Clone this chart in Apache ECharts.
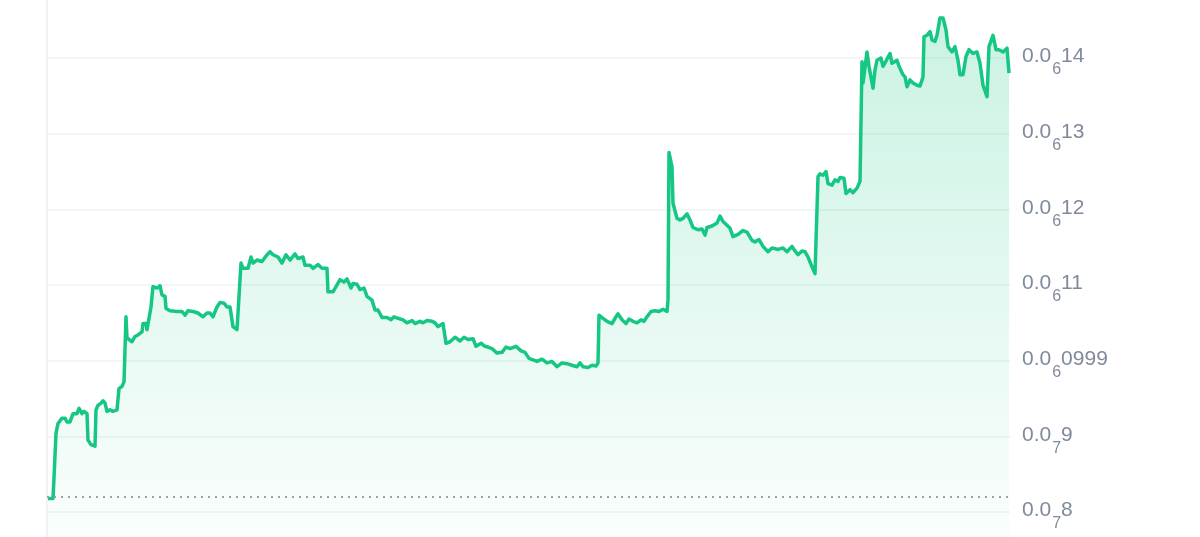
<!DOCTYPE html>
<html>
<head>
<meta charset="utf-8">
<script src="https://cdn.jsdelivr.net/npm/echarts@6/dist/echarts.min.js"></script>
<style>
  html, body { margin: 0; padding: 0; background: #fff; }
  #chart { width: 1200px; height: 537px; }
</style>
</head>
<body>
<div id="chart"></div>
<script>
// price values are in units of 1e-7 (0.0₆14 = 1.4e-7)
const timeSteps = [
  1, 6, 7, 8, 9, 11, 15, 18, 20, 23, 26, 30, 32, 35, 37, 40, 41, 44, 48, 49,
  51, 54, 56, 58, 60, 63, 66, 70, 72, 75, 77, 79, 80, 82, 85, 88, 91, 95, 96, 99,
  100, 102, 104, 106, 110, 113, 115, 118, 119, 123, 130, 135, 138, 141, 146, 151, 156, 160, 163, 166,
  170, 173, 177, 180, 183, 185, 186, 190, 192, 194, 196, 201, 204, 206, 210, 215, 220, 223, 226, 231,
  235, 239, 243, 248, 251, 256, 258, 263, 266, 271, 275, 280, 281, 286, 289, 293, 297, 300, 304, 306,
  310, 313, 317, 320, 325, 328, 331, 335, 340, 344, 347, 351, 356, 360, 365, 368, 373, 376, 380, 385,
  388, 391, 396, 399, 403, 408, 413, 417, 421, 426, 429, 434, 438, 441, 445, 450, 455, 459, 463, 469,
  474, 478, 482, 483, 490, 495, 500, 505, 510, 515, 520, 525, 530, 533, 536, 541, 545, 549, 551, 552,
  556, 560, 565, 568, 571, 575, 579, 582, 586, 590, 594, 597, 600, 604, 608, 612, 616, 620, 621, 622,
  625, 626, 628, 630, 633, 636, 640, 643, 646, 651, 655, 658, 660, 665, 670, 673, 676, 680, 683, 686,
  691, 696, 700, 705, 708, 712, 716, 721, 725, 731, 736, 740, 745, 748, 751, 755, 758, 761, 765, 768,
  770, 771, 773, 776, 779, 781, 785, 788, 791, 793, 797, 799, 803, 806, 810, 813, 815, 816, 820, 822,
  826, 828, 830, 834, 836, 839, 843, 845, 850, 852, 856, 858, 860, 863, 866, 870, 873, 876, 877, 880,
  883, 885, 888, 890, 893, 896, 899, 901, 905, 908, 911, 913, 916, 919, 922, 926, 930, 933, 936, 940,
  942, 946, 949, 952, 956, 960, 962
];
const prices = [
  0.818, 0.818, 0.845, 0.847, 0.904, 0.917, 0.924, 0.924, 0.919, 0.919, 0.930, 0.930, 0.937, 0.930, 0.933, 0.930, 0.895, 0.889, 0.887, 0.935,
  0.941, 0.944, 0.947, 0.944, 0.933, 0.935, 0.933, 0.935, 0.963, 0.966, 0.972, 1.058, 1.030, 1.030, 1.025, 1.032, 1.034, 1.038, 1.049, 1.049,
  1.041, 1.041, 1.071, 1.098, 1.096, 1.099, 1.087, 1.085, 1.069, 1.066, 1.065, 1.065, 1.060, 1.066, 1.065, 1.063, 1.058, 1.063, 1.063, 1.058,
  1.071, 1.077, 1.076, 1.071, 1.071, 1.069, 1.045, 1.041, 1.041, 1.129, 1.122, 1.122, 1.137, 1.129, 1.133, 1.131, 1.140, 1.144, 1.140, 1.137,
  1.129, 1.140, 1.133, 1.141, 1.135, 1.137, 1.126, 1.126, 1.122, 1.127, 1.122, 1.122, 1.091, 1.091, 1.098, 1.107, 1.104, 1.108, 1.096, 1.102,
  1.101, 1.094, 1.096, 1.085, 1.080, 1.067, 1.067, 1.057, 1.057, 1.054, 1.058, 1.056, 1.054, 1.050, 1.053, 1.049, 1.052, 1.050, 1.053, 1.052,
  1.050, 1.045, 1.049, 1.023, 1.025, 1.031, 1.026, 1.031, 1.028, 1.029, 1.019, 1.023, 1.019, 1.018, 1.016, 1.010, 1.011, 1.018, 1.016, 1.019,
  1.013, 1.011, 1.003, 1.001, 0.999, 1.002, 0.997, 0.999, 0.992, 0.997, 0.996, 0.994, 0.992, 0.997, 0.992, 0.991, 0.994, 0.993, 0.997, 1.060,
  1.056, 1.052, 1.049, 1.056, 1.062, 1.054, 1.049, 1.055, 1.052, 1.050, 1.054, 1.052, 1.058, 1.065, 1.066, 1.065, 1.068, 1.065, 1.080, 1.275,
  1.256, 1.208, 1.208, 1.188, 1.186, 1.188, 1.194, 1.186, 1.176, 1.173, 1.174, 1.166, 1.176, 1.178, 1.182, 1.191, 1.184, 1.179, 1.175, 1.164,
  1.167, 1.172, 1.170, 1.159, 1.157, 1.160, 1.151, 1.144, 1.149, 1.147, 1.149, 1.144, 1.151, 1.145, 1.140, 1.145, 1.144, 1.137, 1.124, 1.115,
  1.113, 1.243, 1.247, 1.245, 1.250, 1.234, 1.232, 1.239, 1.237, 1.242, 1.241, 1.221, 1.226, 1.222, 1.228, 1.237, 1.395, 1.367, 1.408, 1.389,
  1.360, 1.384, 1.397, 1.400, 1.389, 1.396, 1.406, 1.393, 1.397, 1.389, 1.378, 1.375, 1.362, 1.371, 1.367, 1.364, 1.363, 1.375, 1.428, 1.430,
  1.435, 1.424, 1.422, 1.430, 1.453, 1.453, 1.437, 1.415, 1.408, 1.415, 1.397, 1.378, 1.378, 1.402, 1.411, 1.406, 1.408, 1.393, 1.364, 1.349,
  1.415, 1.430, 1.411, 1.411, 1.408, 1.413, 1.380
];

// y-axis ticks and their subscript-zero labels: "0.0" + sub + digits
const tickValues = [0.8, 0.9, 1.0, 1.1, 1.2, 1.3, 1.4];
const tickSubs = ['7', '7', '6', '6', '6', '6', '6'];
const tickDigits = ['8', '9', '0999', '11', '12', '13', '14'];

const GREEN = '#16c784';
const GREY = '#808a9d';
const LINE_GREY = '#eff2f5';
const FONT = 'Liberation Sans, Arial, sans-serif';

const chart = echarts.init(document.getElementById('chart'), null, { renderer: 'canvas' });

function tickLabel(v) {
  const i = tickValues.findIndex(t => Math.abs(t - v) < 1e-6);
  if (i < 0) return '';
  return '{a|0.0}{s|' + tickSubs[i] + '}{a|' + tickDigits[i] + '}';
}

// 75.67px per 0.1 step; extend one step past each end so the plot fills the canvas
chart.setOption({
  backgroundColor: '#fff',
  animation: false,
  grid: { left: 47, right: 190, top: -17.67, bottom: -50.67, outerBoundsMode: 'none' },
  xAxis: {
    type: 'value', min: 0, max: 963, show: false,
  },
  yAxis: [{
    type: 'value', position: 'right', min: 0.7, max: 1.5, interval: 0.1,
    axisLine: { show: true, lineStyle: { color: LINE_GREY, width: 1.5 } },
    axisTick: { show: false },
    splitLine: { lineStyle: { color: LINE_GREY, width: 1.5 } },
    axisLabel: {
      margin: 12,
      formatter: tickLabel,
      rich: {
        a: { fontFamily: FONT, fontSize: 21, color: GREY, padding: [0, 0, 3, 0] },
        s: { fontFamily: FONT, fontSize: 16, color: GREY, padding: [24, 0, 0, 1] },
      },
    },
  }, {
    type: 'value', position: 'left', min: 0.7, max: 1.5, interval: 0.1,
    axisLine: { show: true, lineStyle: { color: LINE_GREY, width: 1.5 } },
    axisTick: { show: false }, axisLabel: { show: false }, splitLine: { show: false },
  }],
  series: [{
    type: 'line',
    data: timeSteps.map((t, i) => [t, prices[i]]),
    symbol: 'none',
    smooth: false,
    lineStyle: { color: GREEN, width: 3.5, join: 'round' },
    itemStyle: { color: GREEN },
    areaStyle: {
      color: {
        type: 'linear', x: 0, y: 0, x2: 0, y2: 1,
        colorStops: [{ offset: 0, color: 'rgba(22,199,132,0.32)' }, { offset: 1, color: 'rgba(22,199,132,0)' }],
      },
    },
    markLine: {
      silent: true, symbol: 'none', label: { show: false },
      lineStyle: { color: '#9ba1b2', type: [2, 5], width: 2 },
      data: [{ yAxis: prices[0] }],
    },
  }],
});
</script>
</body>
</html>
